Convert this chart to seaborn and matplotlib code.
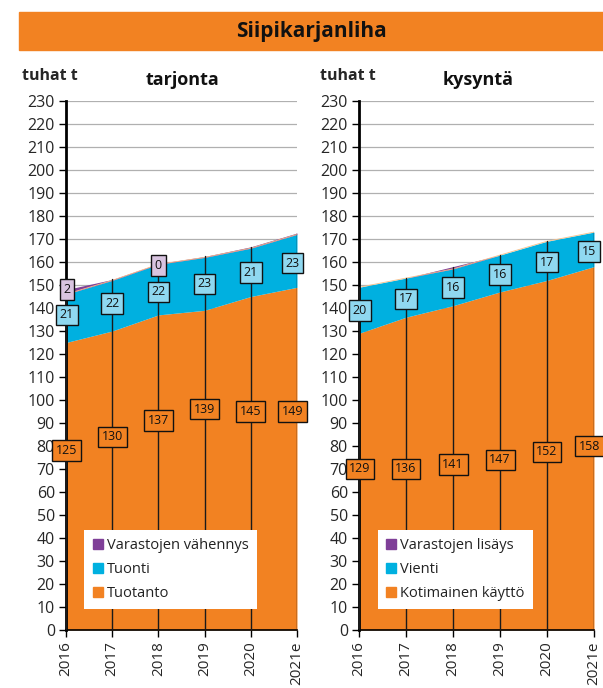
import numpy as np
import matplotlib
matplotlib.use("Agg")
import matplotlib.pyplot as plt
import seaborn as sns
from matplotlib.lines import Line2D

sns.set_theme(style="white")
plt.rcParams['font.family'] = ['Open Sans', 'DejaVu Sans']

# data (tuhat t)
years = ["2016", "2017", "2018", "2019", "2020", "2021e"]

tuotanto = [125, 130, 137, 139, 145, 149]
tuonti = [21, 22, 22, 23, 21, 23]
var_vahennys = [2, 0.4, 0.3, 0.4, 0.6, 0.6]
var_vahennys_lab = ["2", "", "0", "", "", ""]

kotimainen = [129, 136, 141, 147, 152, 158]
vienti = [20, 17, 16, 16, 17, 15]
var_lisays = [0, 0, 1, 0, 0, 0]

# label heights (data units) as in the original chart
tuotanto_lab_y = [78, 84, 91, 96, 95, 95]
tuonti_lab_y = [137, 142, 147, 150.5, 155.5, 159.5]
vahennys_lab_y = [148, 0, 158.5, 0, 0, 0]
kotimainen_lab_y = [70, 70, 72, 74, 77.5, 80]
vienti_lab_y = [139, 144, 149, 154.5, 160, 164.5]

ORANGE = "#F28222"
BLUE = "#00B0E0"
PURPLE = "#7F3F98"
LBLUE = "#8FD8F0"
LPURPLE = "#D8C4E0"

fig = plt.figure(figsize=(6.03, 6.88), dpi=100)

# title bar
fig.patches.append(plt.Rectangle((19 / 603, 1 - 50 / 688), 1 - 19 / 603, 38 / 688,
                                 transform=fig.transFigure, color=ORANGE, zorder=0))
fig.text(0.5 + 10 / 603, 1 - 31 / 688, "Siipikarjanliha", ha="center", va="center",
         fontsize=15, fontweight="bold", color="#111111")


def draw_panel(ax, base, mid, top, top_lab, lab_y, legend_labels, title, title_x):
    x = np.arange(len(years))
    ax.stackplot(x, base, mid, top, colors=[ORANGE, BLUE, PURPLE], linewidth=0, zorder=2)
    total = np.array(base) + np.array(mid) + np.array(top)
    # drop lines
    for xi, t in zip(x, total):
        ax.plot([xi, xi], [0, t], color="#1a1a1a", lw=1, zorder=3)
    sns.lineplot(x=x, y=np.array(base) + np.array(mid), ax=ax, color="#f6c08a", lw=0.6, zorder=2)

    ax.set_xlim(0, 5)
    ax.set_ylim(0, 230)
    ax.set_yticks(range(0, 231, 10))
    ax.set_xticks(x)
    ax.set_xticklabels(years, rotation=90, fontsize=11)
    ax.tick_params(axis="y", labelsize=11.5, length=5, width=1, color="black", direction="out",
                   left=True, pad=3)
    ax.tick_params(axis="x", length=5, width=1, color="black", direction="out", bottom=True, pad=3)
    ax.grid(axis="y", color="#b0b0b0", lw=0.9, zorder=0)
    ax.grid(axis="x", visible=False)
    sns.despine(ax=ax, top=True, right=True)
    ax.spines["left"].set_linewidth(2)
    ax.spines["left"].set_color("black")
    ax.spines["bottom"].set_linewidth(1.2)
    ax.spines["bottom"].set_color("black")
    ax.set_axisbelow(True)

    def box(xi, y, s, fc):
        dx = 0.02 if xi == 0 else (-0.1 if xi == 5 else 0)
        ax.text(xi + dx, y, s, ha="center", va="center", fontsize=9, color="#111111", zorder=5,
                bbox=dict(boxstyle="square,pad=0.3", fc=fc, ec="#111111", lw=1), clip_on=False)

    for i in x:
        box(i, lab_y[0][i], str(base[i]), ORANGE)
        box(i, lab_y[1][i], str(mid[i]), LBLUE)
        if top_lab is not None and top_lab[i]:
            box(i, lab_y[2][i], top_lab[i], LPURPLE)

    handles = [Line2D([], [], marker="s", ls="", color=c, markersize=7.5)
               for c in [PURPLE, BLUE, ORANGE]]
    leg = ax.legend(handles, legend_labels, loc="lower left", bbox_to_anchor=(0.08, 0.04),
                    fontsize=10.5, frameon=True, fancybox=False, framealpha=1,
                    edgecolor="white", handlelength=0.7, handletextpad=0.3,
                    labelspacing=0.62, borderpad=0.55, borderaxespad=0)
    leg.get_frame().set_linewidth(0)
    leg.set_zorder(6)
    for t in leg.get_texts():
        t.set_color("#222222")

    fig.text(title_x / 603, 1 - 80 / 688, title, ha="center", va="center",
             fontsize=13, fontweight="bold", color="#111111")


ax1 = fig.add_axes([66 / 603, 58 / 688, 231 / 603, 529 / 688])
ax2 = fig.add_axes([359 / 603, 58 / 688, 235 / 603, 529 / 688])

draw_panel(ax1, tuotanto, tuonti, var_vahennys, var_vahennys_lab,
           [tuotanto_lab_y, tuonti_lab_y, vahennys_lab_y],
           ["Varastojen vähennys", "Tuonti", "Tuotanto"], "tarjonta", 182)
draw_panel(ax2, kotimainen, vienti, var_lisays, None,
           [kotimainen_lab_y, vienti_lab_y, None],
           ["Varastojen lisäys", "Vienti", "Kotimainen käyttö"], "kysyntä", 478)

fig.text(22 / 603, 1 - 76 / 688, "tuhat t", ha="left", va="center", fontsize=11.5, fontweight="bold")
fig.text(320 / 603, 1 - 76 / 688, "tuhat t", ha="left", va="center", fontsize=11.5, fontweight="bold")

fig.savefig("out.png", dpi=100)
